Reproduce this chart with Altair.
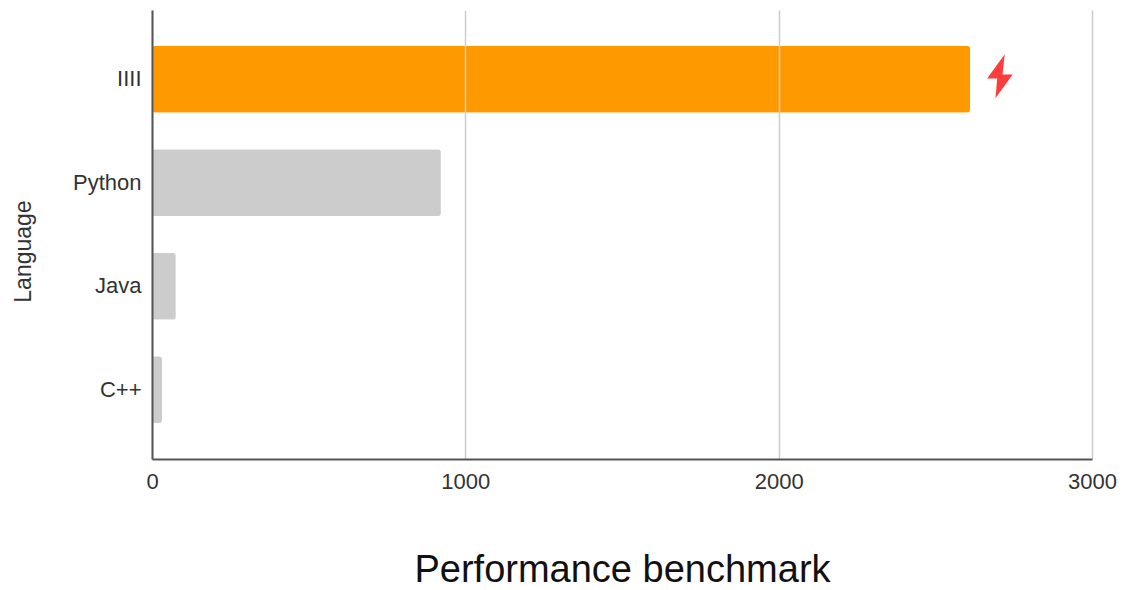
import altair as alt
import pandas as pd

languages = ["IIII", "Python", "Java", "C++"]
scores = [2611, 922, 76, 32]
bar_colors = ["#FF9900", "#CCCCCC", "#CCCCCC", "#CCCCCC"]
marker_language = ["IIII"]
marker_score = [2706]
x_ticks = [0, 1000, 2000, 3000]
bolt = "M0.22,-1 L-0.58,0.1 L-0.12,0.1 L-0.2,1 L0.58,-0.08 L0.12,-0.08 Z"

FONT = "Liberation Sans"
df = pd.DataFrame({"Language": languages, "Score": scores})
marker = pd.DataFrame({"Language": marker_language, "Score": marker_score})

y_scale = alt.Scale(domain=languages, paddingInner=0.353, paddingOuter=0.345)
x_scale = alt.Scale(domain=[0, 3000], nice=False)

bars = alt.Chart(df).mark_bar(cornerRadius=3).encode(
    x=alt.X(
        "Score:Q",
        scale=x_scale,
        axis=alt.Axis(
            values=x_ticks,
            format="d",
            title="Performance benchmark",
            titleFontSize=38,
            titleFont=FONT,
            titleFontWeight="normal",
            titleColor="#111111",
            titleY=111,
            titleBaseline="middle",
            labelFontSize=22,
            labelFont=FONT,
            labelColor="#333333",
            labelPadding=12,
            labelFlush=False,
            labelOverlap=False,
            ticks=False,
            grid=True,
            gridColor="#CCCCCC",
            gridWidth=1.5,
            domainColor="#555555",
            domainWidth=2,
            zindex=1,
        ),
    ),
    y=alt.Y(
        "Language:N",
        scale=y_scale,
        sort=languages,
        axis=alt.Axis(
            title="Language",
            titleFontSize=23,
            titleFont=FONT,
            titleFontWeight="normal",
            titleColor="#333333",
            titleX=-129,
            titleY=241,
            titleBaseline="middle",
            labelFontSize=22,
            labelFont=FONT,
            labelColor="#333333",
            labelPadding=11,
            ticks=False,
            grid=False,
            domainColor="#555555",
            domainWidth=2,
            zindex=1,
        ),
    ),
    color=alt.Color(
        "Language:N",
        scale=alt.Scale(domain=languages, range=bar_colors),
        legend=None,
    ),
)

flash = alt.Chart(marker).mark_point(
    shape=bolt, filled=True, opacity=1, color="#FF3B3B", size=1936, yOffset=-3
).encode(
    x=alt.X("Score:Q", scale=x_scale),
    y=alt.Y("Language:N", scale=y_scale, sort=languages),
)

chart = (bars + flash).properties(
    width=940,
    height=449,
    padding={"left": 144, "top": 2, "right": 25, "bottom": 132},
    autosize=alt.AutoSizeParams(type="none"),
).configure_view(stroke=None)

chart.save("out.html", embed_options={"renderer": "svg", "actions": False})
